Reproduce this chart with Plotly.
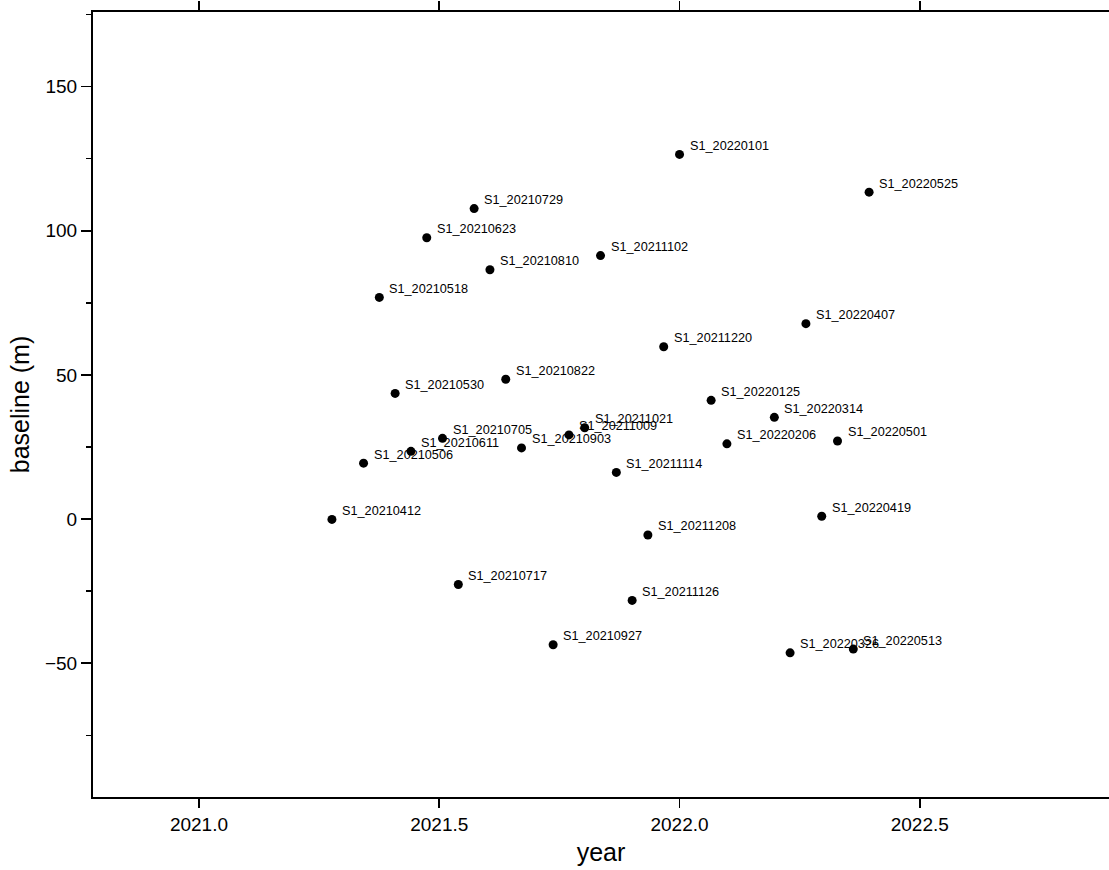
import plotly.graph_objects as go

# Scene names (acquisition dates)
scenes = [
    "S1_20210412", "S1_20210506", "S1_20210518", "S1_20210530", "S1_20210611",
    "S1_20210623", "S1_20210705", "S1_20210717", "S1_20210729", "S1_20210810",
    "S1_20210822", "S1_20210903", "S1_20210927", "S1_20211009", "S1_20211021",
    "S1_20211102", "S1_20211114", "S1_20211126", "S1_20211208", "S1_20211220",
    "S1_20220101", "S1_20220125", "S1_20220206", "S1_20220314", "S1_20220326",
    "S1_20220407", "S1_20220419", "S1_20220501", "S1_20220513", "S1_20220525",
]

# Decimal year of each acquisition
years = [
    2021.2767, 2021.3425, 2021.3753, 2021.4082, 2021.4411,
    2021.4740, 2021.5068, 2021.5397, 2021.5726, 2021.6055,
    2021.6384, 2021.6712, 2021.7370, 2021.7699, 2021.8027,
    2021.8356, 2021.8685, 2021.9014, 2021.9342, 2021.9671,
    2022.0000, 2022.0658, 2022.0986, 2022.1973, 2022.2301,
    2022.2630, 2022.2959, 2022.3288, 2022.3616, 2022.3945,
]

# Perpendicular baseline (m)
baselines = [
    -0.1, 19.4, 76.9, 43.6, 23.5,
    97.6, 28.0, -22.7, 107.7, 86.5,
    48.5, 24.7, -43.6, 29.2, 31.7,
    91.4, 16.2, -28.2, -5.5, 59.8,
    126.5, 41.2, 26.1, 35.3, -46.4,
    67.8, 1.0, 27.1, -45.1, 113.4,
]

x_ticks = [2021.0, 2021.5, 2022.0, 2022.5]
x_tick_labels = ["2021.0", "2021.5", "2022.0", "2022.5"]
y_ticks = [-50, 0, 50, 100, 150]
y_tick_labels = ["\u221250", "0", "50", "100", "150"]

FONT = "Liberation Sans, Arial, Helvetica, sans-serif"

fig = go.Figure()
fig.add_trace(go.Scatter(
    x=years, y=baselines, mode="markers",
    marker=dict(color="black", size=9, line=dict(width=0)),
    hoverinfo="skip", showlegend=False,
))

for name, xv, yv in zip(scenes, years, baselines):
    fig.add_annotation(
        x=xv, y=yv, text=name, showarrow=False,
        xanchor="left", yanchor="middle", xshift=8, yshift=8.5,
        font=dict(family=FONT, size=12.7, color="black"),
    )

fig.update_layout(
    width=1109, height=870,
    margin=dict(l=93, r=0, t=12, b=73),
    paper_bgcolor="white", plot_bgcolor="white",
    font=dict(family=FONT, color="black"),
    showlegend=False,
)

fig.update_xaxes(
    range=[2020.7795, 2022.8937],
    tickmode="array", tickvals=x_ticks, ticktext=x_tick_labels,
    ticks="outside", ticklen=9, tickwidth=1.5, tickcolor="black",
    showline=True, linewidth=2, linecolor="black", mirror="ticks",
    showgrid=False, zeroline=False,
    tickfont=dict(family=FONT, size=19, color="black"),
    title=dict(text="year", font=dict(family=FONT, size=25, color="black"), standoff=10),
)

fig.update_yaxes(
    range=[-96.4, 175.9],
    tickmode="array", tickvals=y_ticks, ticktext=y_tick_labels,
    ticks="outside", ticklen=10, tickwidth=1.5, tickcolor="black",
    minor=dict(tickmode="linear", tick0=0, dtick=25, ticks="outside", ticklen=5,
               tickwidth=1.5, tickcolor="black", showgrid=False),
    showline=True, linewidth=2, linecolor="black", mirror=False,
    showgrid=False, zeroline=False,
    tickfont=dict(family=FONT, size=19, color="black"),
    title=dict(text="baseline (m)", font=dict(family=FONT, size=25, color="black"), standoff=8),
)

fig.write_html(
    "out.html",
    config={"displayModeBar": False, "staticPlot": True},
    post_script="document.body.style.margin='0px';document.body.style.overflow='hidden';",
)
